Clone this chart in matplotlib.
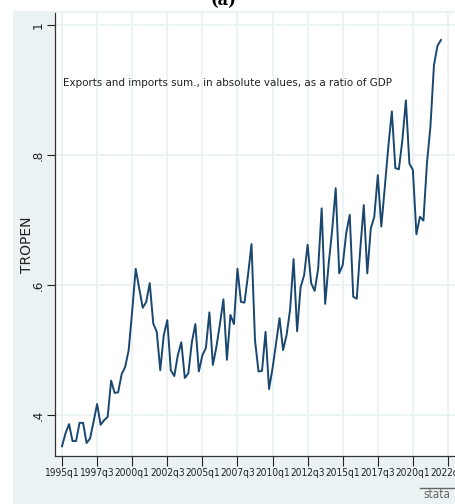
import numpy as np
import matplotlib.pyplot as plt
from matplotlib.patches import Rectangle

# Stata s2color look
BG = "#EAF2F3"
NAVY = "#1A476F"
plt.rcParams['font.family'] = ['DejaVu Sans']
plt.rcParams['font.stretch'] = 'condensed'

# TROPEN, quarterly, 1995q1 .. 2022q1
tropen = [0.352, 0.372, 0.386, 0.360, 0.360, 0.388, 0.388, 0.357, 0.364, 0.390,
          0.417, 0.385, 0.392, 0.397, 0.453, 0.434, 0.435, 0.463, 0.474, 0.500,
          0.560, 0.625, 0.595, 0.565, 0.574, 0.603, 0.541, 0.528, 0.469, 0.523,
          0.546, 0.469, 0.460, 0.492, 0.512, 0.457, 0.464, 0.512, 0.540, 0.467,
          0.492, 0.503, 0.558, 0.477, 0.505, 0.540, 0.578, 0.485, 0.554, 0.540,
          0.625, 0.574, 0.573, 0.615, 0.663, 0.515, 0.467, 0.468, 0.528, 0.440,
          0.472, 0.510, 0.549, 0.500, 0.523, 0.562, 0.640, 0.529, 0.597, 0.615,
          0.662, 0.603, 0.591, 0.625, 0.718, 0.571, 0.633, 0.685, 0.749, 0.618,
          0.631, 0.680, 0.708, 0.582, 0.579, 0.655, 0.723, 0.618, 0.687, 0.705,
          0.769, 0.690, 0.751, 0.813, 0.867, 0.780, 0.778, 0.823, 0.884, 0.787,
          0.777, 0.678, 0.705, 0.699, 0.787, 0.844, 0.938, 0.968, 0.977]
quarter = np.arange(len(tropen))  # 0 = 1995q1

xtick_pos = [0, 10, 20, 30, 40, 50, 60, 70, 80, 90, 100, 110]
xtick_labels = ["1995q1", "1997q3", "2000q1", "2002q3", "2005q1", "2007q3",
                "2010q1", "2012q3", "2015q1", "2017q3", "2020q1", "2022q3"]
ytick_pos = [0.4, 0.6, 0.8, 1.0]
ytick_labels = [".4", ".6", ".8", "1"]

W, H = 455, 504
fig = plt.figure(figsize=(W / 100, H / 100), dpi=100)
fig.patches.append(Rectangle((13 / W, 0), 1, 1 - 11 / H, transform=fig.transFigure,
                             facecolor=BG, edgecolor="none", zorder=-10))

ax = fig.add_axes([55 / W, 1 - 456 / H, 1 - 55 / W, (456 - 13) / H])
ax.set_facecolor("white")
ax.plot(quarter, tropen, color=NAVY, linewidth=1.4, zorder=3)

ax.set_xlim(-2.0, 112.0)
ax.set_ylim(0.337, 1.0185)
ax.set_xticks(xtick_pos)
ax.set_xticklabels(xtick_labels, fontsize=7.3)
ax.set_yticks(ytick_pos)
ax.set_yticklabels(ytick_labels, fontsize=9.5, rotation=90, va="center")
ax.tick_params(axis="x", length=7, width=0.8, pad=1.5, colors="#222222")
ax.tick_params(axis="y", length=6, width=0.8, pad=1.5, colors="#222222")
ax.grid(True, color=BG, linewidth=1.3)
ax.set_axisbelow(True)
for s in ["top", "right"]:
    ax.spines[s].set_visible(False)
for s in ["left", "bottom"]:
    ax.spines[s].set_color("#333333")
    ax.spines[s].set_linewidth(0.9)

ax.set_ylabel("TROPEN", fontsize=10, color="#222222", fontstretch="normal")
ax.yaxis.set_label_coords(-0.052, 0.476)
ax.text(0.02, 0.843, "Exports and imports sum., in absolute values, as a ratio of GDP",
        transform=ax.transAxes, fontsize=8.25, color="#222222", va="center")

fig.text(0.49, 1 - 9 / H, "(a)", ha="center", va="bottom", fontsize=13,
         fontweight="bold", family="DejaVu Serif")
fig.text(423 / W, 1 - 494 / H, "stata", fontsize=8.5, color="#666666", va="center")
fig.add_artist(plt.Line2D([420 / W, 1], [1 - 488 / H, 1 - 488 / H],
                          transform=fig.transFigure, color="#666666", linewidth=1))

fig.savefig("out.png", dpi=100)
